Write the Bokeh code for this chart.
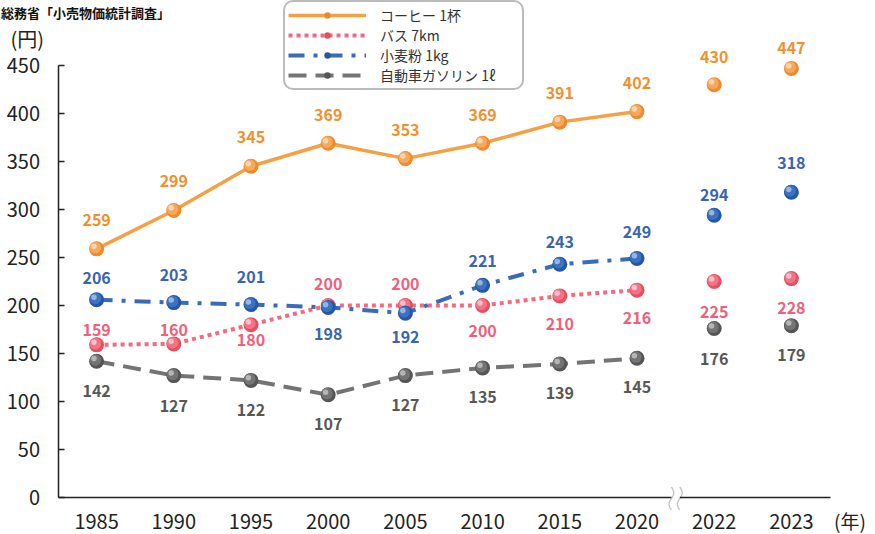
import numpy as np
from bokeh.plotting import figure
from bokeh.models import (Range1d, FixedTicker, ColumnDataSource, LabelSet, Label,
                          Legend, LegendItem, PolyAnnotation)
from bokeh.transform import dodge
from bokeh.core.properties import value
from bokeh.embed import file_html
from bokeh.resources import INLINE

# ---------------- data ----------------
years = ["1985", "1990", "1995", "2000", "2005", "2010", "2015", "2020", "2022", "2023"]
coffee = [259, 299, 345, 369, 353, 369, 391, 402, 430, 447]
bus = [159, 160, 180, 200, 200, 200, 210, 216, 225, 228]
flour = [206, 203, 201, 198, 192, 221, 243, 249, 294, 318]
gasoline = [142, 127, 122, 107, 127, 135, 139, 145, 176, 179]
series_names = ["コーヒー 1杯", "バス 7km", "小麦粉 1kg", "自動車ガソリン 1ℓ"]
n_connected = 8          # 1985-2020 are joined by lines
y_ticks = list(range(0, 451, 50))
y_min, y_max = 0, 450
title_text = "総務省「小売物価統計調査」"
y_unit_text = "(円)"
x_unit_text = "(年)"

# label placement (pixels, positive = above the point)
coffee_off = [29, 29, 29, 28, 29, 28, 29, 29, 28, 20]
bus_off = [15, 14, -15, 22, 22, -25, -28, -28, -30, -29]
flour_off = [22, 28, 28, -27, -24, 24, 22, 26, 20, 29]
gasoline_off = [-30, -30, -30, -29, -29, -29, -29, -29, -30, -29]

# ---------------- layout (pixels inside the figure) ----------------
FONT = "Noto Sans CJK JP"
W, H = 875, 534
AX_LEFT, AX_RIGHT = 57.5, 829.5     # where the x axis starts / ends
AX_TOP, AX_BOTTOM = 65.0, 497.0     # where y=450 / y=0 lie
ncat = len(years)
PX_X = (AX_RIGHT - AX_LEFT) / ncat
PX_Y = (AX_BOTTOM - AX_TOP) / (y_max - y_min)
x0, x1 = -0.5, ncat - 0.5
xr = Range1d(x0 - AX_LEFT / PX_X, x1 + (W - AX_RIGHT) / PX_X)
yr = Range1d(y_min - (H - AX_BOTTOM) / PX_Y, y_max + AX_TOP / PX_Y)

p = figure(width=W, height=H, output_backend="svg", toolbar_location=None,
           x_range=xr, y_range=yr, min_border=0, min_border_left=0,
           min_border_right=0, min_border_top=0, min_border_bottom=0)
p.xgrid.grid_line_color = None
p.ygrid.grid_line_color = None
p.outline_line_color = None
p.background_fill_color = "white"
p.border_fill_color = "white"

# y axis
ya = p.yaxis[0]
ya.fixed_location = x0
ya.bounds = (y_min, y_max)
ya.ticker = FixedTicker(ticks=y_ticks)
ya.major_tick_in = 6
ya.major_tick_out = 0
ya.minor_tick_in = 0
ya.minor_tick_out = 0
ya.axis_line_color = "#222222"
ya.axis_line_width = 1.5
ya.major_tick_line_color = "#222222"
ya.major_tick_line_width = 1.5
ya.major_label_text_font = FONT
ya.major_label_text_font_size = "20px"
ya.major_label_text_color = "#222222"
ya.major_label_standoff = 18

# x axis
xa = p.xaxis[0]
xa.fixed_location = y_min
xa.bounds = (x0, x1)
xa.ticker = FixedTicker(ticks=list(range(ncat)))
xa.major_label_overrides = {i: y for i, y in enumerate(years)}
xa.major_tick_in = 0
xa.major_tick_out = 0
xa.minor_tick_in = 0
xa.minor_tick_out = 0
xa.axis_line_color = "#222222"
xa.axis_line_width = 1.5
xa.major_label_text_font = FONT
xa.major_label_text_font_size = "20px"
xa.major_label_text_color = "#222222"
xa.major_label_standoff = 16

styles = [
    # values, offsets, line color, dash, width, (base, mid, hi), text color
    (coffee, coffee_off, "#F6A043", "solid", 3.5, ("#EE8A2C", "#F6A85C", "#FCDAB6"), "#F28F2F"),
    (bus, bus_off, "#F46A7C", "4 4", 4, ("#E5505F", "#F27487", "#FBC6CE"), "#F0607A"),
    (flour, flour_off, "#3A6BB7", "16 9 4 9", 4, ("#2457A5", "#3D72C0", "#A0BEE6"), "#3A64B0"),
    (gasoline, gasoline_off, "#747474", "18 9", 4, ("#555555", "#747474", "#BDBDBD"), "#585858"),
]

items = []
for (vals, offs, lc, dash, lw, sph, tc), name in zip(styles, series_names):
    lsrc = ColumnDataSource(dict(x=list(range(n_connected)), y=vals[:n_connected]))
    lr = p.line("x", "y", source=lsrc, line_color=lc, line_width=lw, line_dash=dash)
    src = ColumnDataSource(dict(x=list(range(ncat)), y=vals,
                                label=[str(v) for v in vals], off=offs))
    sr = p.scatter("x", "y", source=src, size=15, fill_color=sph[0], line_color=None)
    p.scatter(dodge("x", -1.2 / PX_X), dodge("y", 1.2 / PX_Y), source=src, size=11.5,
              fill_color=sph[1], line_color=None)
    p.scatter(dodge("x", -2.6 / PX_X), dodge("y", 2.6 / PX_Y), source=src, size=5.5,
              fill_color=sph[2], line_color=None, fill_alpha=0.9)
    p.add_layout(LabelSet(x="x", y="y", text="label", y_offset="off", source=src,
                          text_font=value(FONT), text_font_size="16px",
                          text_font_style="bold", text_color=tc,
                          text_align="center", text_baseline="middle"))
    items.append(LegendItem(label=name, renderers=[lr, sr]))

legend = Legend(items=items, location=(283, H - 90), orientation="vertical",
                glyph_width=78, glyph_height=16, label_height=16, label_width=139,
                label_text_font=FONT, label_text_font_size="14px",
                label_text_color="#333333", label_standoff=14, spacing=-7,
                padding=3, margin=0, border_line_color="#777777",
                border_line_width=2, background_fill_color="white",
                background_fill_alpha=1)
if "border_radius" in Legend.properties():
    legend.border_radius = 10
p.add_layout(legend, "center")

# axis break mark between 2020 and 2022
bx = n_connected - 0.5
gap = 4.2 / PX_X
p.add_layout(PolyAnnotation(xs=[bx - gap, bx + gap, bx + gap, bx - gap],
                            ys=[-2.5, -2.5, 2.5, 2.5], fill_color="white",
                            fill_alpha=1, line_color=None))
t = np.linspace(0, 1, 25)
for cx in (bx - gap, bx + gap):
    wx = cx + (2.4 / PX_X) * np.sin(2 * np.pi * t)
    wy = (10.5 - t * 23.0) / PX_Y
    xs = list(wx) + list(wx[::-1])
    ys = list(wy) + list(wy[::-1])
    p.add_layout(PolyAnnotation(xs=xs, ys=ys, fill_alpha=0, line_color="#333333",
                                line_width=1.3))

# texts
p.add_layout(Label(x=x0, y=y_max, x_offset=-AX_LEFT + 0.5, y_offset=53, text=title_text,
                   text_font=FONT, text_font_size="13px", text_font_style="bold",
                   text_color="#111111", text_baseline="middle", text_align="left"))
p.add_layout(Label(x=x0, y=y_max, x_offset=-AX_LEFT + 10, y_offset=27, text=y_unit_text,
                   text_font=FONT, text_font_size="20px", text_color="#222222",
                   text_baseline="middle", text_align="left"))
p.add_layout(Label(x=x1, y=y_min, x_offset=4, y_offset=-23, text=x_unit_text,
                   text_font=FONT, text_font_size="19px", text_color="#222222",
                   text_baseline="middle", text_align="left"))

open("out.html", "w").write(file_html(p, INLINE))
